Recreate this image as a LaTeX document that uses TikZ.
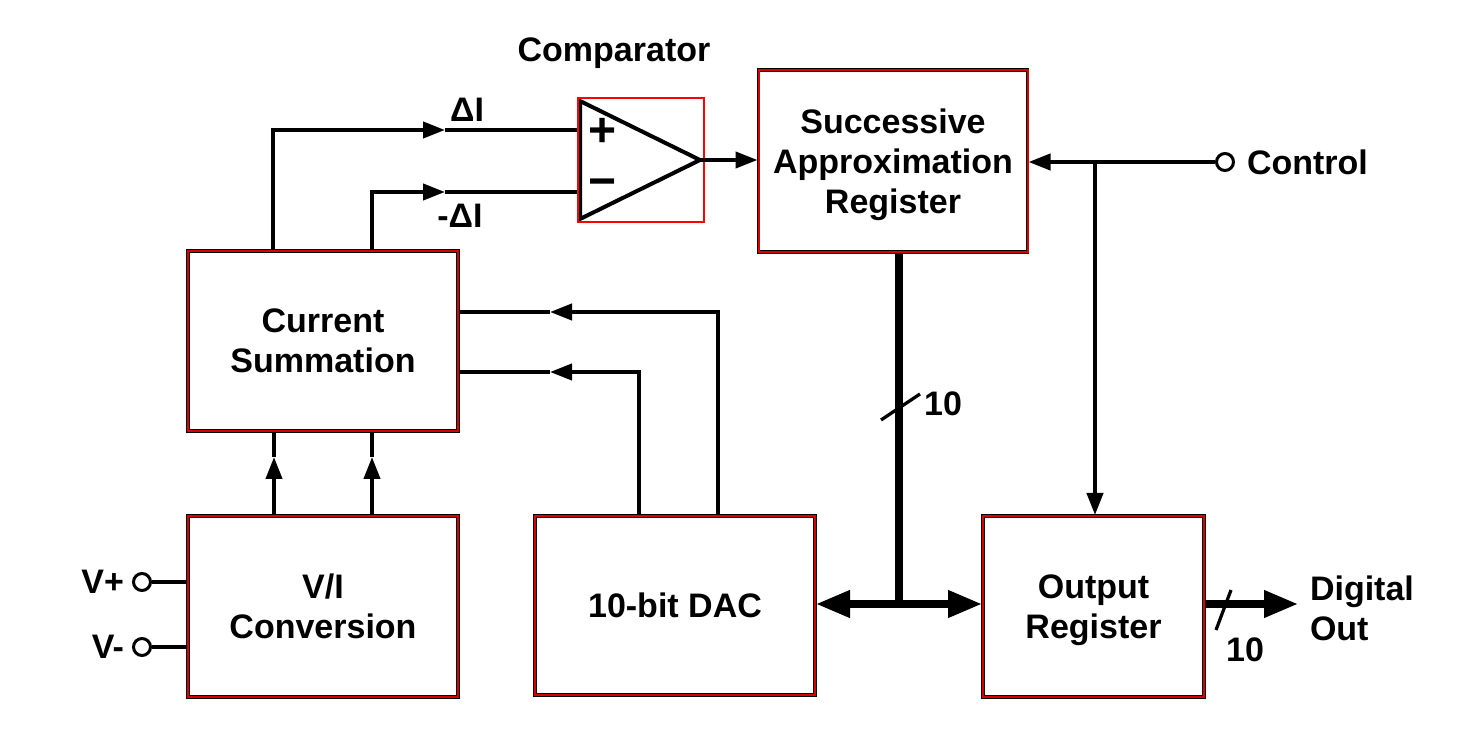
\documentclass[tikz,border=0pt]{standalone}
\usepackage{fontspec}
\setmainfont{Liberation Sans}
\usetikzlibrary{arrows.meta}

\begin{document}
\begin{tikzpicture}[x=0.5pt, y=-0.5pt, line width=2pt,
 >={Triangle[length=11pt,width=8pt]},
 big/.tip={Triangle[length=17pt,width=13pt]},
 txt/.style={font=\bfseries\fontsize{17}{20}\selectfont, inner sep=1pt},
 blk/.style={txt, align=center, inner sep=0pt, text depth=0pt, draw=red!85!black, line width=1pt,
  preaction={draw=black, line width=1.9pt}},
 sign/.style={font=\bfseries\fontsize{24}{24}\selectfont, inner sep=0pt},
 term/.style={circle, draw, line width=1.5pt, minimum size=8.5pt, inner sep=0pt},
 bus/.style={line width=3.6pt},
 slash/.style={line width=1.6pt}]
 \useasboundingbox (0,0) rectangle (1484,732);

 % blocks
 \node[blk, minimum width=135pt, minimum height=90pt] (cs) at (323,341) {Current\\Summation};
 \node[blk, minimum width=135pt, minimum height=90.5pt] (vi) at (323,606.5) {V/I\\Conversion};
 \node[blk, minimum width=140pt, minimum height=89.5pt] (dac) at (675,605.5) {10-bit DAC};
 \node[blk, minimum width=134.5pt, minimum height=91pt] (sar) at (893,161) {Successive\\Approximation\\Register};
 \node[blk, minimum width=110.5pt, minimum height=90.5pt] (outr) at (1093.5,606.5) {Output\\Register};

 % comparator
 \coordinate (co) at (700,160);
 \draw[line join=miter] (580,101) -- (co) -- (580,219) -- cycle;
 \node[draw=red, line width=1pt, minimum width=63pt, minimum height=62pt] (cmp) at (641,160) {};
 \node[txt] (cmplbl) at (614,53) {Comparator};
 \node[sign] (plus) at (603,132) {+};
 \node[sign] (minus) at (603,188) {−};
 \draw[->] (co) -- (co -| sar.west);

 % differential currents
 \coordinate (pa) at (445,130);
 \coordinate (pb) at (445,192);
 \draw[->] (273,0 |- cs.north) |- (pa);
 \draw (pa) -- (cmp.west |- pa);
 \draw[->] (372,0 |- cs.north) |- (pb);
 \draw (pb) -- (cmp.west |- pb);
 \node[txt] (dil) at (467,110) {ΔI};
 \node[txt] (mdil) at (460,216) {-ΔI};

 % V/I into summation
 \coordinate (ua) at (274,457);
 \coordinate (ub) at (372,457);
 \draw[->] (274,0 |- vi.north) -- (ua);
 \draw (ua) -- (ua |- cs.south);
 \draw[->] (372,0 |- vi.north) -- (ub);
 \draw (ub) -- (ub |- cs.south);

 % inputs
 \node[term] (vp) at (142,582) {};
 \node[term] (vm) at (142,647) {};
 \node[txt, anchor=east] (vpl) at (128,582) {V+};
 \node[txt, anchor=east] (vml) at (128,647) {V-};
 \draw (vp) -- (vp -| vi.west);
 \draw (vm) -- (vm -| vi.west);

 % DAC feedback
 \coordinate (fa) at (550,312);
 \coordinate (fb) at (550,372);
 \draw[->] (718,0 |- dac.north) |- (fa);
 \draw (fa) -- (fa -| cs.east);
 \draw[->] (639,0 |- dac.north) |- (fb);
 \draw (fb) -- (fb -| cs.east);

 % control
 \node[term] (ctl) at (1225,162) {};
 \node[txt, anchor=west] (ctll) at (1243,162) {Control};
 \coordinate (cj) at (1095,162);
 \draw[->] (ctl.west) -- (sar.east |- ctl);
 \draw[->] (cj) -- (cj |- outr.north);

 % data bus
 \coordinate (jn) at (899,604);
 \draw[bus] (899,0 |- sar.south) -- (jn);
 \draw[bus, big-big] (dac.east |- jn) -- (outr.west |- jn);
 \draw[slash] (881,420) -- (920,394);
 \node[txt] (n1) at (943,404) {10};
 \coordinate (dout) at (1298,604);
 \draw[bus, -big] (outr.east |- jn) -- (dout);
 \draw[slash] (1216,630) -- (1231,590);
 \node[txt] (n2) at (1245,650) {10};
 \node[txt, anchor=west, align=left] (dol) at (1306,608) {Digital\\Out};
\end{tikzpicture}
\end{document}
